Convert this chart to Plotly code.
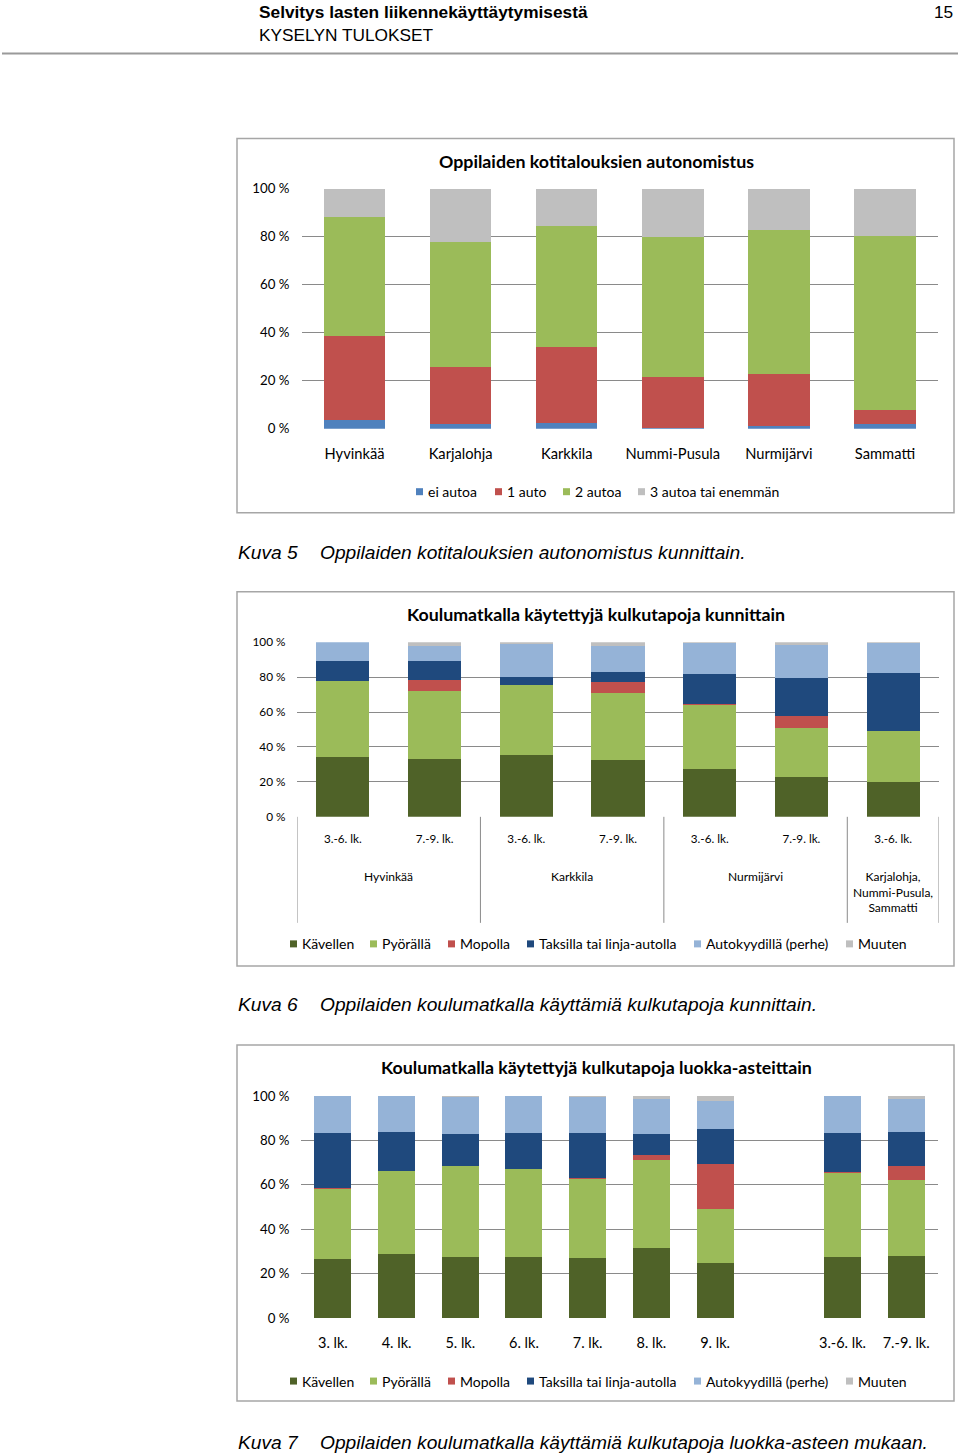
import plotly.graph_objects as go

W, H = 960, 1455
# observed vertical mapping of the photographed page: y_shown = 7.5 + 0.9886 * y_layout
def X(p): return p / W
def Y(p): return 1 - ((p - 7.5) / 0.9886) / H

# ---------------- Data ----------------
# Chart 1 (Kuva 5)
c1_categories = ["Hyvinkää", "Karjalohja", "Karkkila", "Nummi-Pusula", "Nurmijärvi", "Sammatti"]
c1_ei_autoa = [3.5, 1.8, 2.2, 0.2, 1.1, 1.8]
c1_1_auto = [35.0, 23.9, 31.7, 21.3, 21.8, 6.1]
c1_2_autoa = [49.7, 52.1, 50.5, 58.4, 60.0, 72.2]
c1_3_autoa = [11.8, 22.2, 15.6, 20.1, 17.1, 19.9]
c1_series = ["ei autoa", "1 auto", "2 autoa", "3 autoa tai enemmän"]

# Chart 2 (Kuva 6)
c2_grades = ["3.-6. lk.", "7.-9. lk.", "3.-6. lk.", "7.-9. lk.", "3.-6. lk.", "7.-9. lk.", "3.-6. lk."]
c2_groups = ["Hyvinkää", "Karkkila", "Nurmijärvi", "Karjalohja,<br>Nummi-Pusula,<br>Sammatti"]
c2_group_sizes = [2, 2, 2, 1]
c2_kavellen = [34.3, 33.0, 35.2, 32.6, 27.2, 23.0, 20.1]
c2_pyoralla = [43.5, 38.8, 40.3, 38.3, 37.0, 28.1, 29.3]
c2_mopolla = [0.0, 6.6, 0.2, 6.5, 0.4, 6.4, 0.0]
c2_taksi = [11.7, 11.1, 4.6, 5.7, 17.2, 22.0, 33.0]
c2_auto = [10.5, 8.6, 18.6, 15.0, 17.6, 19.0, 17.0]
c2_muuten = [0.0, 1.9, 1.3, 1.9, 0.6, 1.5, 0.6]

# Chart 3 (Kuva 7)
c3_categories = ["3. lk.", "4. lk.", "5. lk.", "6. lk.", "7. lk.", "8. lk.", "9. lk.", "", "3.-6. lk.", "7.-9. lk."]
c3_kavellen = [26.8, 29.0, 27.5, 27.5, 27.2, 31.7, 24.8, None, 27.5, 28.1]
c3_pyoralla = [31.5, 37.2, 40.8, 39.4, 35.5, 39.4, 24.4, None, 37.8, 34.0]
c3_mopolla = [0.3, 0.2, 0.3, 0.4, 0.3, 2.1, 20.1, None, 0.3, 6.3]
c3_taksi = [24.6, 17.2, 14.1, 15.9, 20.2, 9.5, 15.8, None, 17.6, 15.2]
c3_auto = [16.8, 16.4, 17.0, 16.8, 16.5, 16.1, 12.6, None, 16.8, 15.2]
c3_muuten = [0.0, 0.0, 0.3, 0.0, 0.3, 1.2, 2.3, None, 0.0, 1.2]

mode_series = ["Kävellen", "Pyörällä", "Mopolla", "Taksilla tai linja-autolla", "Autokyydillä (perhe)", "Muuten"]

y_ticks = [0, 20, 40, 60, 80, 100]
y_ticktext = ["0 %", "20 %", "40 %", "60 %", "80 %", "100 %"]

# ---------------- Styles ----------------
c1_colors = ["#4F81BD", "#C0504D", "#9BBB59", "#BFBFBF"]
mode_colors = ["#4F6228", "#9BBB59", "#C0504D", "#1F497D", "#95B3D7", "#BFBFBF"]
FONT = "Lato"
GRID = "#8A8A8A"
BOX = "#A6A6A6"

fig = go.Figure()

for name, vals, col in zip(c1_series, [c1_ei_autoa, c1_1_auto, c1_2_autoa, c1_3_autoa], c1_colors):
    fig.add_trace(go.Bar(x=list(range(len(c1_categories))), y=vals, name=name,
                         marker=dict(color=col, line=dict(width=0)),
                         xaxis="x", yaxis="y", showlegend=False, hoverinfo="name+y"))

for name, vals, col in zip(mode_series, [c2_kavellen, c2_pyoralla, c2_mopolla, c2_taksi, c2_auto, c2_muuten], mode_colors):
    fig.add_trace(go.Bar(x=list(range(len(c2_grades))), y=vals, name=name,
                         marker=dict(color=col, line=dict(width=0)),
                         xaxis="x2", yaxis="y2", showlegend=False, hoverinfo="name+y"))

for name, vals, col in zip(mode_series, [c3_kavellen, c3_pyoralla, c3_mopolla, c3_taksi, c3_auto, c3_muuten], mode_colors):
    fig.add_trace(go.Bar(x=list(range(len(c3_categories))), y=vals, name=name,
                         marker=dict(color=col, line=dict(width=0)),
                         xaxis="x3", yaxis="y3", showlegend=False, hoverinfo="name+y"))

def yaxis(domain, size, standoff):
    return dict(domain=domain, range=[0, 100], tickvals=y_ticks, ticktext=y_ticktext,
                showgrid=True, gridcolor=GRID, gridwidth=1, zeroline=False,
                showline=False, ticks="", tickfont=dict(family=FONT, size=size, color="#000"),
                ticklabelstandoff=standoff, fixedrange=True)

def xaxis(domain, n, labels, size, anchor, standoff):
    return dict(domain=domain, range=[-0.5, n - 0.5], tickmode="array",
                tickvals=list(range(n)), ticktext=labels, showgrid=False, zeroline=False,
                showline=False, ticks="", anchor=anchor,
                tickfont=dict(family=FONT, size=size, color="#000"),
                ticklabelstandoff=standoff, fixedrange=True)

fig.update_layout(
    width=W, height=H, margin=dict(l=0, r=0, t=0, b=0),
    paper_bgcolor="white", plot_bgcolor="white",
    barmode="stack", bargap=0.42, showlegend=False,
    xaxis=xaxis([X(301.5), X(938)], len(c1_categories), c1_categories, 14.7, "y", 15),
    yaxis=yaxis([Y(428), Y(188)], 13.3, 11),
    xaxis2=xaxis([X(297), X(939)], len(c2_grades), c2_grades, 11.7, "y2", 13),
    yaxis2=yaxis([Y(816), Y(641.5)], 11.8, 15),
    xaxis3=xaxis([X(301), X(938)], len(c3_categories), c3_categories, 14.5, "y3", 14),
    yaxis3=yaxis([Y(1317), Y(1095)], 13.3, 11),
)

shapes = []
ann = []

def text(t, x, y, size, family="Liberation Sans", bold=False, italic=False, xanchor="left", yanchor="middle", color="#000"):
    if bold:
        t = "<b>" + t + "</b>"
    if italic:
        t = "<i>" + t + "</i>"
    ann.append(dict(text=t, x=X(x), y=Y(y), xref="paper", yref="paper",
                    xanchor=xanchor, yanchor=yanchor, showarrow=False,
                    font=dict(family=family, size=size, color=color)))

# header rule
shapes.append(dict(type="line", xref="paper", yref="paper", x0=X(2), x1=X(958), y0=Y(53), y1=Y(53),
                   line=dict(color="#9A9A9A", width=2)))
# chart boxes
for (x0, y0, x1, y1) in [(237, 138, 954, 512), (237, 591, 954, 965), (237, 1044, 954, 1400)]:
    shapes.append(dict(type="rect", xref="paper", yref="paper", x0=X(x0), x1=X(x1), y0=Y(y0), y1=Y(y1),
                       line=dict(color=BOX, width=1.5), fillcolor="rgba(0,0,0,0)"))
# chart 2 group dividers
pos = -0.5
divs = [pos]
for s in c2_group_sizes:
    pos += s
    divs.append(pos)
for d in divs:
    shapes.append(dict(type="line", xref="x2", yref="paper", x0=d, x1=d, y0=Y(816), y1=Y(922),
                       line=dict(color=GRID, width=1)))

# legends (square + label), item start positions in px
def legend(names, colors, xs, yc, size=7, fsize=14):
    for name, col, x0 in zip(names, colors, xs):
        shapes.append(dict(type="rect", xref="paper", yref="paper", x0=X(x0), x1=X(x0 + size),
                           y0=Y(yc + size / 2), y1=Y(yc - size / 2), fillcolor=col, line=dict(width=0)))
        text(name, x0 + size + 3, yc, fsize, family=FONT)

legend(c1_series, c1_colors, [416, 495, 563, 638], 491)
legend(mode_series, mode_colors, [290, 370, 448, 527, 694, 846], 943)
legend(mode_series, mode_colors, [290, 370, 448, 527, 694, 846], 1380)

# header
text("Selvitys lasten liikennekäyttäytymisestä", 257, 11, 17.3, bold=True)
text("KYSELYN TULOKSET", 257, 34, 17.3)
text("15", 955, 11, 17.3, xanchor="right")

# chart titles
text("Oppilaiden kotitalouksien autonomistus", 596, 160, 17.8, family=FONT, bold=True, xanchor="center")
text("Koulumatkalla käytettyjä kulkutapoja kunnittain", 596, 613, 17.8, family=FONT, bold=True, xanchor="center")
text("Koulumatkalla käytettyjä kulkutapoja luokka-asteittain", 596, 1066, 17.8, family=FONT, bold=True, xanchor="center")

# chart 2 group labels
pos = -0.5
for g, s in zip(c2_groups, c2_group_sizes):
    center = pos + s / 2
    pos += s
    ann.append(dict(text=g, x=center, y=Y(866), xref="x2", yref="paper", xanchor="center", yanchor="top",
                    showarrow=False, align="center",
                    font=dict(family=FONT, size=12, color="#000")))

# captions
for yy, k, cap in [(552, "Kuva 5", "Oppilaiden kotitalouksien autonomistus kunnittain."),
                   (1004, "Kuva 6", "Oppilaiden koulumatkalla käyttämiä kulkutapoja kunnittain."),
                   (1441, "Kuva 7", "Oppilaiden koulumatkalla käyttämiä kulkutapoja luokka-asteen mukaan.")]:
    text(k, 236, yy, 19.2, italic=True)
    text(cap, 318, yy, 19.2, italic=True)

fig.update_layout(shapes=shapes, annotations=ann)

post = (
    "document.documentElement.style.margin='0';"
    "document.documentElement.style.overflow='hidden';"
    "document.body.style.margin='0';"
    "document.body.style.overflow='hidden';"
    "document.body.style.height='1455px';"
    "var d=document.getElementsByClassName('plotly-graph-div')[0];"
    "d.style.position='absolute';d.style.top='0px';d.style.left='0px';"
)
fig.write_html("out.html", config={"displayModeBar": False, "staticPlot": True}, post_script=post)
